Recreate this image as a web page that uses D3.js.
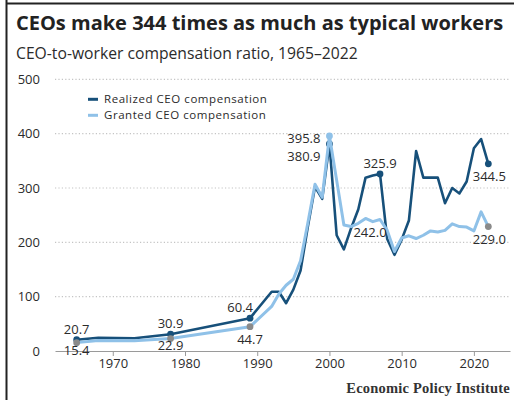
<!DOCTYPE html>
<html>
<head>
<meta charset="utf-8">
<script src="https://cdn.jsdelivr.net/npm/d3@7/dist/d3.min.js"></script>
<style>
  html, body { margin: 0; padding: 0; background: #fff; }
  svg { display: block; }
  text { font-family: "Open Sans", Lato, sans-serif; fill: #2b2b2b; }
</style>
</head>
<body>
<script>
// ---------------- data ----------------
const years = [1965, 1968, 1973, 1978, 1989, 1992, 1993, 1994, 1995, 1996, 1997, 1998, 1999,
  2000, 2001, 2002, 2003, 2004, 2005, 2006, 2007, 2008, 2009, 2010, 2011, 2012, 2013,
  2014, 2015, 2016, 2017, 2018, 2019, 2020, 2021, 2022];
const realized = [20.7, 24.5, 23.5, 30.9, 60.4, 109, 109, 88, 113, 148, 228, 302, 280,
  380.9, 213, 187, 226, 261, 319, 323, 325.9, 206, 177, 205, 240, 368, 319,
  319, 319, 272, 300, 290, 312, 373, 390, 344.5];
const granted = [15.4, 19.5, 19.0, 22.9, 44.7, 82, 105, 121, 132, 166, 235, 307, 283,
  395.8, 314, 232, 229, 235, 244, 238, 242.0, 222, 183, 208, 212, 207, 213,
  221, 219, 222, 234, 229, 228, 221, 256, 229.0];
const seriesNames = ["Realized CEO compensation", "Granted CEO compensation"];
const yTicks = [0, 100, 200, 300, 400, 500];
const xTicks = [1970, 1980, 1990, 2000, 2010, 2020];
const realizedLabelYears = [1965, 1978, 1989, 2000, 2007, 2022];
const grantedLabelYears = [1965, 1978, 1989, 2000, 2007, 2022];
const titleText = "CEOs make 344 times as much as typical workers";
const subtitleText = "CEO-to-worker compensation ratio, 1965\u20132022";
const sourceText = "Economic Policy Institute";

// ---------------- layout / style ----------------
const W = 514, H = 400;
const darkC = "#17507a", lightC = "#8fc1e8", dotGrey = "#8a8a8a";
const svg = d3.select("body").append("svg").attr("width", W).attr("height", H);

// frame edges
svg.append("line").attr("x1", 6.5).attr("x2", 6.5).attr("y1", 0).attr("y2", H)
  .attr("stroke", "#222").attr("stroke-width", 2);
svg.append("line").attr("x1", 6).attr("x2", W).attr("y1", 3.5).attr("y2", 3.5)
  .attr("stroke", "#222").attr("stroke-width", 2);

svg.append("text").attr("x", 16).attr("y", 30).text(titleText)
  .style("font-size", "20px").style("font-weight", "700").style("fill", "#222");
svg.append("text").attr("x", 16).attr("y", 59).text(subtitleText)
  .style("font-size", "15.7px").style("fill", "#2b2b2b");

const x = d3.scaleLinear().domain([1962, 2025]).range([55, 510]);
const y = d3.scaleLinear().domain([0, 500]).range([351, 79.3]);

// gridlines
svg.append("g").selectAll("line").data(yTicks.filter(d => d > 0)).join("line")
  .attr("x1", 55).attr("x2", 510)
  .attr("y1", d => y(d)).attr("y2", d => y(d))
  .attr("stroke", "#c4c4c4").attr("stroke-width", 1.2).attr("stroke-dasharray", "1.2,2.2");

// y labels
svg.append("g").selectAll("text").data(yTicks).join("text")
  .attr("x", 40).attr("y", d => y(d)).attr("dy", "0.35em")
  .attr("text-anchor", "end").style("font-size", "13px").text(d => d);

// x axis
const xAxis = d3.axisBottom(x).tickValues(xTicks).tickFormat(d3.format("d"))
  .tickSize(5).tickSizeOuter(0).tickPadding(3);
const gx = svg.append("g").attr("transform", `translate(0,${y(0)})`).call(xAxis);
gx.select(".domain").attr("stroke", "#9a9a9a").attr("stroke-width", 1.2);
gx.selectAll(".tick line").attr("stroke", "#9a9a9a");
gx.selectAll(".tick text").style("font-size", "13px").style("font-family", "'Open Sans', sans-serif")
  .attr("fill", "#2b2b2b");

// lines + dots
const pts = s => years.map((yr, i) => [yr, s[i]]);
const line = d3.line().x(d => x(d[0])).y(d => y(d[1])).curve(d3.curveLinear);
const valOf = (s, yr) => s[years.indexOf(yr)];
svg.append("path").datum(pts(realized)).attr("d", line)
  .attr("fill", "none").attr("stroke", darkC).attr("stroke-width", 2.6)
  .attr("stroke-linejoin", "round");
const rDots = realizedLabelYears.map(yr => ({ yr, v: valOf(realized, yr) }));
svg.append("g").selectAll("circle").data(rDots).join("circle")
  .attr("cx", d => x(d.yr)).attr("cy", d => y(d.v)).attr("r", 3.4).attr("fill", darkC);
svg.append("path").datum(pts(granted)).attr("d", line)
  .attr("fill", "none").attr("stroke", lightC).attr("stroke-width", 3)
  .attr("stroke-linejoin", "round");
const gDots = grantedLabelYears.filter(yr => yr !== 2007).map(yr => ({ yr, v: valOf(granted, yr) }));
svg.append("g").selectAll("circle").data(gDots).join("circle")
  .attr("cx", d => x(d.yr)).attr("cy", d => y(d.v)).attr("r", 3.4)
  .attr("fill", d => d.yr === 2000 ? lightC : dotGrey);

// annotation label offsets (layout only)
const rOff = { 1965: [0, -5.5, "middle"], 1978: [0, -6.5, "middle"], 1989: [3, -6, "end"],
  2000: [-9, 17, "end"], 2007: [0, -6, "middle"], 2022: [1, 17, "middle"] };
const gOff = { 1965: [0, 12.5, "middle"], 1978: [0, 11, "middle"], 1989: [0, 17, "middle"],
  2000: [-9, 7, "end"], 2007: [-10, 17.5, "middle"], 2022: [1, 17.5, "middle"] };
const labelG = svg.append("g").style("font-size", "13px");
realizedLabelYears.forEach(yr => {
  const v = valOf(realized, yr), o = rOff[yr];
  labelG.append("text").attr("x", x(yr) + o[0]).attr("y", y(v) + o[1])
    .attr("text-anchor", o[2]).text(d3.format(".1f")(v));
});
grantedLabelYears.forEach(yr => {
  const v = valOf(granted, yr), o = gOff[yr];
  labelG.append("text").attr("x", x(yr) + o[0]).attr("y", y(v) + o[1])
    .attr("text-anchor", o[2]).text(d3.format(".1f")(v));
});

// legend
const lg = svg.append("g");
[darkC, lightC].forEach((c, i) => {
  lg.append("line").attr("x1", 88).attr("x2", 98).attr("y1", 99.3 + i * 16).attr("y2", 99.3 + i * 16)
    .attr("stroke", c).attr("stroke-width", 3);
  lg.append("text").attr("x", 104).attr("y", 99.3 + i * 16).attr("dy", "0.35em")
    .style("font-size", "11.5px").style("letter-spacing", "0.55px").text(seriesNames[i]);
});

// source
svg.append("text").attr("x", 510).attr("y", 393).attr("text-anchor", "end")
  .style("font-family", "'Liberation Serif', 'DejaVu Serif', serif")
  .style("font-weight", "700").style("font-size", "14.5px").style("letter-spacing", "0.2px")
  .style("fill", "#333")
  .text(sourceText);
</script>
</body>
</html>
